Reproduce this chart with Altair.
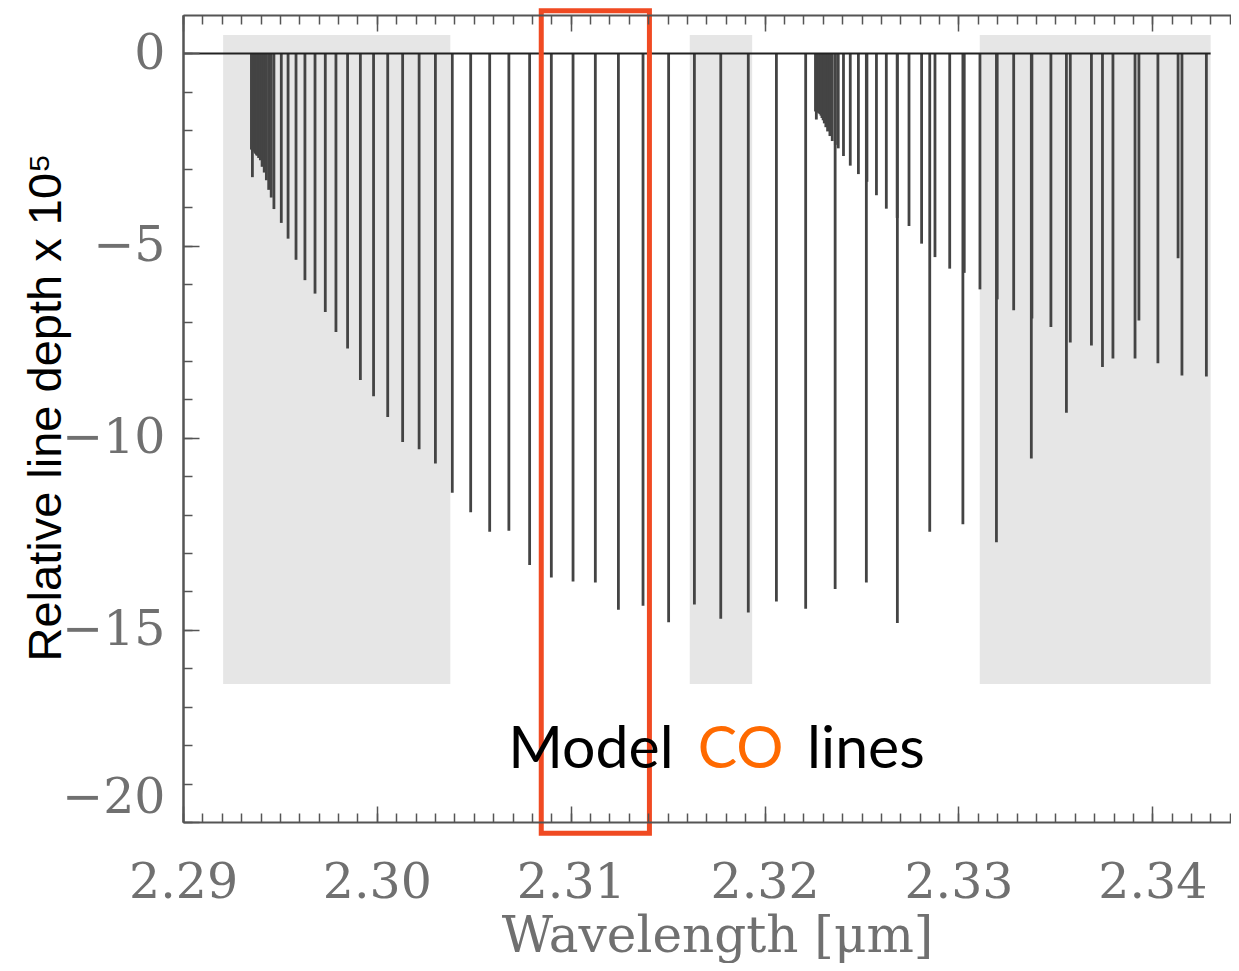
import altair as alt
import pandas as pd

# ---------------- data ----------------
# CO 2-0 band lines: wavelength [micron], relative depth x 1e5
co20_wl = [2.29353, 2.29356, 2.29358, 2.29362, 2.29364, 2.29367, 2.29371, 2.29374,
           2.29376, 2.29380, 2.29383, 2.29390, 2.29399, 2.29408, 2.29419, 2.29430,
           2.29442, 2.29455, 2.29469, 2.29507, 2.29542, 2.29583, 2.29629, 2.29681,
           2.29734, 2.29789, 2.29849, 2.29915, 2.29983, 2.30056, 2.30133, 2.30218,
           2.30302, 2.30389, 2.30484, 2.30582, 2.30681, 2.30788, 2.30900, 2.31012,
           2.31127, 2.31246, 2.31373, 2.31505, 2.31638, 2.31774, 2.31916, 2.32061,
           2.32212, 2.32364, 2.32525, 2.32685, 2.32852, 2.33023, 2.33196, 2.33376,
           2.33557, 2.33743, 2.33931, 2.34133]
co20_depth = [-2.50, -2.50, -3.22, -2.52, -2.54, -2.55, -2.58, -2.60,
              -2.62, -2.65, -2.66, -2.72, -2.78, -2.95, -3.10, -3.30,
              -3.55, -3.75, -4.05, -4.41, -4.82, -5.37, -5.90, -6.25,
              -6.73, -7.25, -7.68, -8.50, -8.92, -9.46, -10.11, -10.30,
              -10.67, -11.43, -11.94, -12.45, -12.42, -13.31, -13.64, -13.74,
              -13.77, -14.48, -14.37, -14.80, -14.34, -14.71, -14.55, -14.26,
              -14.45, -13.94, -13.77, -14.82, -12.45, -12.25, -12.72, -10.54,
              -9.35, -8.16, -6.95, -5.33]

# CO 3-1 band lines
co31_wl = [2.32263, 2.32265, 2.32267, 2.32272, 2.32275, 2.32278, 2.32282, 2.32286,
           2.32291, 2.32296, 2.32302, 2.32308, 2.32316, 2.32325, 2.32337, 2.32349,
           2.32365, 2.32380, 2.32407, 2.32442, 2.32484, 2.32528, 2.32577, 2.32628,
           2.32684, 2.32745, 2.32810, 2.32879, 2.32955, 2.33030, 2.33111, 2.33200,
           2.33285, 2.33379, 2.33477, 2.33577, 2.33686, 2.33797, 2.33911, 2.34029,
           2.34153, 2.34279]
co31_depth = [-1.50, -1.52, -1.72, -1.52, -1.53, -1.54, -1.56, -1.58,
              -1.62, -1.68, -1.74, -1.82, -1.92, -2.03, -2.15, -2.28,
              -2.38, -2.47, -2.67, -2.92, -3.14, -3.34, -3.69, -4.04,
              -4.28, -4.49, -4.95, -5.30, -5.60, -5.71, -6.14, -6.40,
              -6.68, -6.90, -7.12, -7.52, -7.60, -7.94, -7.94, -8.06,
              -8.38, -8.41]

# shaded wavelength windows
band_start = [2.29207, 2.31614, 2.33110]
band_end = [2.30379, 2.31936, 2.34301]
band_top = [0.48, 0.48, 0.48]
band_bottom = [-16.41, -16.41, -16.41]

# continuum (zero) line extent
zero_x = [2.29]
zero_x2 = [2.34301]
zero_y = [0]

# highlighted box
box_x = [2.30848]
box_x2 = [2.31406]
box_y = [1.11]
box_y2 = [-20.29]

# annotation
ann_text = ["Model", "CO", "lines"]
ann_x = [2.31104, 2.31876, 2.32523]
ann_y = [-18.60, -18.60, -18.60]
ann_color = ["#000000", "#ff6a00", "#000000"]

# axis ticks
x_major = [2.29, 2.30, 2.31, 2.32, 2.33, 2.34]
x_minor = [round(2.290 + 0.001 * i, 3) for i in range(55)]
y_major = [0, -5, -10, -15, -20]
y_minor = list(range(-20, 1))

# ---------------- chart ----------------
W, H = 1048, 807
xs = alt.Scale(domain=[2.29, 2.34406], nice=False, zero=False)
ys = alt.Scale(domain=[-20, 1], nice=False, zero=False)
FRAME = "#555555"
TICK = "#555555"
LAB = "#707070"


def tick_axis(orient, values, size, offset, domain=False):
    return alt.Axis(orient=orient, values=values, labels=False, ticks=True,
                    tickSize=size, tickWidth=1.5, tickColor=TICK, domain=domain,
                    domainColor=FRAME, domainWidth=2,
                    grid=False, title=None, offset=offset, zindex=1)


x_lab_axis = alt.Axis(orient="bottom", values=x_major, format=".2f", labelFlush=False,
                      labelFont="DejaVu Serif", labelFontSize=49, labelColor=LAB,
                      labelBaseline="alphabetic", labelPadding=75, labelOverlap=False,
                      ticks=False, tickSize=0, domain=True, domainColor=FRAME,
                      domainWidth=2, grid=False,
                      title="Wavelength [μm]", titleFont="DejaVu Serif", titleFontSize=50,
                      titleFontWeight="normal", titleColor=LAB, titleX=534, titleY=129,
                      titleAlign="center", titleBaseline="alphabetic", zindex=1)

y_lab_axis = alt.Axis(orient="left", values=y_major, labelFlush=True,
                      labelFont="DejaVu Serif", labelFontSize=49, labelColor=LAB,
                      labelPadding=18, labelOverlap=False,
                      ticks=False, tickSize=0, domain=True, domainColor=FRAME,
                      domainWidth=2, grid=False,
                      title="Relative line depth x 10⁵", titleFont="Liberation Sans",
                      titleFontSize=47, titleFontWeight="normal", titleColor="#000000",
                      titleAngle=270, titleX=-123, titleY=392, titleAlign="center",
                      titleBaseline="alphabetic", zindex=1)

band_df = pd.DataFrame({"start": band_start, "end": band_end,
                        "top": band_top, "bottom": band_bottom})
lines_df = pd.DataFrame({"lam": co20_wl + co31_wl, "depth": co20_depth + co31_depth})
zero_df = pd.DataFrame({"x0": zero_x, "x1": zero_x2, "y": zero_y})
box_df = pd.DataFrame({"x0": box_x, "x1": box_x2, "y0": box_y, "y1": box_y2})
ann_df = pd.DataFrame({"t": ann_text, "x": ann_x, "y": ann_y, "c": ann_color})

bands = alt.Chart(band_df).mark_rect(color="#e6e6e6").encode(
    x=alt.X("start:Q", scale=xs, axis=x_lab_axis),
    x2="end:Q",
    y=alt.Y("top:Q", scale=ys, axis=y_lab_axis),
    y2="bottom:Q",
)

lines = alt.Chart(lines_df).mark_rule(color="#444444", strokeWidth=2.8).encode(
    x=alt.X("lam:Q", scale=xs, axis=tick_axis("top", x_major, 16, -H)),
    y=alt.Y("depth:Q", scale=ys, axis=tick_axis("right", y_major, 16, -W)),
    y2=alt.datum(0),
)

zero = alt.Chart(zero_df).mark_rule(color="#222222", strokeWidth=2).encode(
    x=alt.X("x0:Q", scale=xs, axis=tick_axis("top", x_minor, 9, -H)),
    x2="x1:Q",
    y=alt.Y("y:Q", scale=ys, axis=tick_axis("right", y_minor, 9, -W, domain=True)),
)

box = alt.Chart(box_df).mark_rect(fill="transparent", stroke="#f04a22", strokeWidth=5).encode(
    x=alt.X("x0:Q", scale=xs, axis=tick_axis("bottom", x_major, 16, -H, domain=True)),
    x2="x1:Q",
    y=alt.Y("y0:Q", scale=ys, axis=None),
    y2="y1:Q",
)

ann = alt.Chart(ann_df).mark_text(font="Lato", fontSize=59, align="center",
                                   baseline="alphabetic").encode(
    x=alt.X("x:Q", scale=xs, axis=tick_axis("bottom", x_minor, 9, -H)),
    y=alt.Y("y:Q", scale=ys, axis=None),
    text="t:N",
    color=alt.Color("c:N", scale=None),
)

chart = alt.layer(bands, lines, zero, box, ann).resolve_axis(
    x="independent", y="independent"
).properties(
    width=W, height=H,
    padding={"left": 175, "top": 7, "right": 0, "bottom": 141},
    autosize=alt.AutoSizeParams(type="none"),
    background="white",
).configure_view(strokeWidth=0)

chart.save("out.html", embed_options={"renderer": "svg", "actions": False})
